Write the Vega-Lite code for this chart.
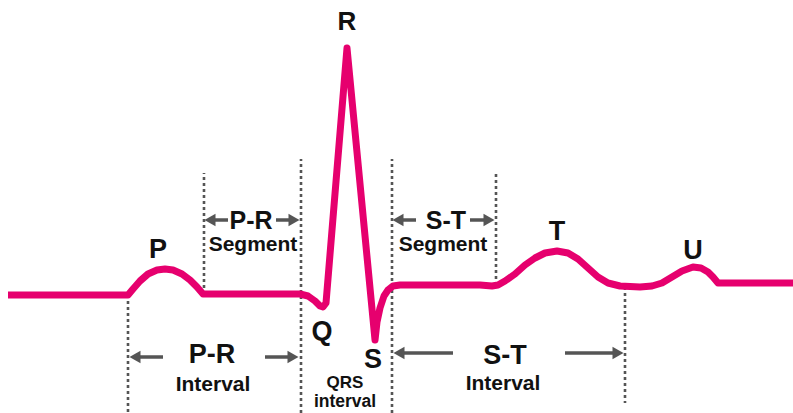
{
  "$schema": "https://vega.github.io/schema/vega-lite/v6.json",
  "width": 793,
  "height": 413,
  "autosize": {"type": "none"},
  "padding": 0,
  "background": "white",
  "config": {"view": {"stroke": null}},
  "datasets": {
    "trace": [
      {"t": 8, "v": 118}, {"t": 128, "v": 118}, {"t": 133, "v": 124}, {"t": 140, "v": 132},
      {"t": 148, "v": 139}, {"t": 157, "v": 143}, {"t": 165, "v": 144}, {"t": 173, "v": 143},
      {"t": 182, "v": 139}, {"t": 190, "v": 133}, {"t": 197, "v": 126}, {"t": 203, "v": 119},
      {"t": 300, "v": 119}, {"t": 308, "v": 117}, {"t": 315, "v": 112}, {"t": 320, "v": 107},
      {"t": 323, "v": 106}, {"t": 326, "v": 110}, {"t": 347, "v": 365}, {"t": 375, "v": 73},
      {"t": 377, "v": 91}, {"t": 380, "v": 105}, {"t": 384, "v": 117}, {"t": 388, "v": 123},
      {"t": 393, "v": 127}, {"t": 400, "v": 128}, {"t": 480, "v": 128}, {"t": 492, "v": 127},
      {"t": 498, "v": 128}, {"t": 505, "v": 132}, {"t": 515, "v": 139}, {"t": 525, "v": 148},
      {"t": 535, "v": 155}, {"t": 545, "v": 160}, {"t": 557, "v": 162}, {"t": 568, "v": 160},
      {"t": 578, "v": 154}, {"t": 588, "v": 145}, {"t": 598, "v": 136}, {"t": 608, "v": 130},
      {"t": 620, "v": 127}, {"t": 640, "v": 126}, {"t": 652, "v": 127}, {"t": 662, "v": 130},
      {"t": 672, "v": 136}, {"t": 682, "v": 142}, {"t": 693, "v": 146}, {"t": 701, "v": 145},
      {"t": 708, "v": 141}, {"t": 713, "v": 136}, {"t": 718, "v": 130}, {"t": 793, "v": 130}
    ],
    "guides": [
      {"t": 128, "v1": 118, "v2": 0},
      {"t": 204, "v1": 119, "v2": 240},
      {"t": 301, "v1": 0, "v2": 254},
      {"t": 392, "v1": 0, "v2": 254},
      {"t": 496, "v1": 128, "v2": 240},
      {"t": 625, "v1": 126, "v2": 10}
    ],
    "shafts": [
      {"t1": 212, "t2": 228, "v": 193},
      {"t1": 276, "t2": 293, "v": 193},
      {"t1": 400, "t2": 416, "v": 193},
      {"t1": 470, "t2": 488, "v": 193},
      {"t1": 136, "t2": 163, "v": 56},
      {"t1": 265, "t2": 291, "v": 56},
      {"t1": 400, "t2": 453, "v": 60},
      {"t1": 565, "t2": 617, "v": 60}
    ],
    "heads": [
      {"t": 210, "v": 193, "dir": "triangle-left"},
      {"t": 294, "v": 193, "dir": "triangle-right"},
      {"t": 398, "v": 193, "dir": "triangle-left"},
      {"t": 489, "v": 193, "dir": "triangle-right"},
      {"t": 135, "v": 56, "dir": "triangle-left"},
      {"t": 293, "v": 56, "dir": "triangle-right"},
      {"t": 399, "v": 60, "dir": "triangle-left"},
      {"t": 618, "v": 60, "dir": "triangle-right"}
    ],
    "labels": [
      {"text": "P", "t": 158, "v": 163, "size": 27},
      {"text": "R", "t": 347, "v": 391, "size": 26},
      {"text": "Q", "t": 322, "v": 81, "size": 27},
      {"text": "S", "t": 373, "v": 53, "size": 27},
      {"text": "T", "t": 557, "v": 181, "size": 27},
      {"text": "U", "t": 693, "v": 162, "size": 27},
      {"text": "P-R", "t": 251, "v": 192, "size": 25},
      {"text": "Segment", "t": 253, "v": 168, "size": 21},
      {"text": "S-T", "t": 446, "v": 192, "size": 25},
      {"text": "Segment", "t": 443, "v": 168, "size": 21},
      {"text": "P-R", "t": 212, "v": 58, "size": 27},
      {"text": "Interval", "t": 213, "v": 28, "size": 21},
      {"text": "S-T", "t": 505, "v": 57, "size": 27},
      {"text": "Interval", "t": 503, "v": 29, "size": 21},
      {"text": "QRS", "t": 345, "v": 30, "size": 17},
      {"text": "interval", "t": 345, "v": 11, "size": 17.5}
    ]
  },
  "layer": [
    {
      "data": {"name": "guides"},
      "mark": {"type": "rule", "color": "#555555", "strokeWidth": 2.6, "strokeDash": [3, 3]},
      "encoding": {
        "x": {"field": "t", "type": "quantitative", "scale": {"domain": [0, 793], "nice": false, "zero": false}, "axis": null},
        "y": {"field": "v1", "type": "quantitative", "scale": {"domain": [0, 413], "nice": false, "zero": false}, "axis": null},
        "y2": {"field": "v2"}
      }
    },
    {
      "data": {"name": "shafts"},
      "mark": {"type": "rule", "color": "#555555", "strokeWidth": 3.5},
      "encoding": {
        "x": {"field": "t1", "type": "quantitative"},
        "x2": {"field": "t2"},
        "y": {"field": "v", "type": "quantitative"}
      }
    },
    {
      "data": {"name": "heads"},
      "mark": {"type": "point", "filled": true, "color": "#555555", "opacity": 1, "size": 160},
      "encoding": {
        "x": {"field": "t", "type": "quantitative"},
        "y": {"field": "v", "type": "quantitative"},
        "shape": {"field": "dir", "type": "nominal", "scale": {"domain": ["triangle-left", "triangle-right"], "range": ["triangle-left", "triangle-right"]}, "legend": null}
      }
    },
    {
      "data": {"name": "trace"},
      "mark": {"type": "line", "color": "#E6006E", "strokeWidth": 7, "strokeJoin": "round", "strokeCap": "butt"},
      "encoding": {
        "x": {"field": "t", "type": "quantitative"},
        "y": {"field": "v", "type": "quantitative"},
        "order": {"field": "t"}
      }
    },
    {
      "data": {"name": "labels"},
      "mark": {"type": "text", "font": "Liberation Sans", "fontWeight": "bold", "color": "#111111", "align": "center", "baseline": "middle"},
      "encoding": {
        "x": {"field": "t", "type": "quantitative"},
        "y": {"field": "v", "type": "quantitative"},
        "text": {"field": "text"},
        "size": {"field": "size", "type": "quantitative", "scale": null}
      }
    }
  ]
}
